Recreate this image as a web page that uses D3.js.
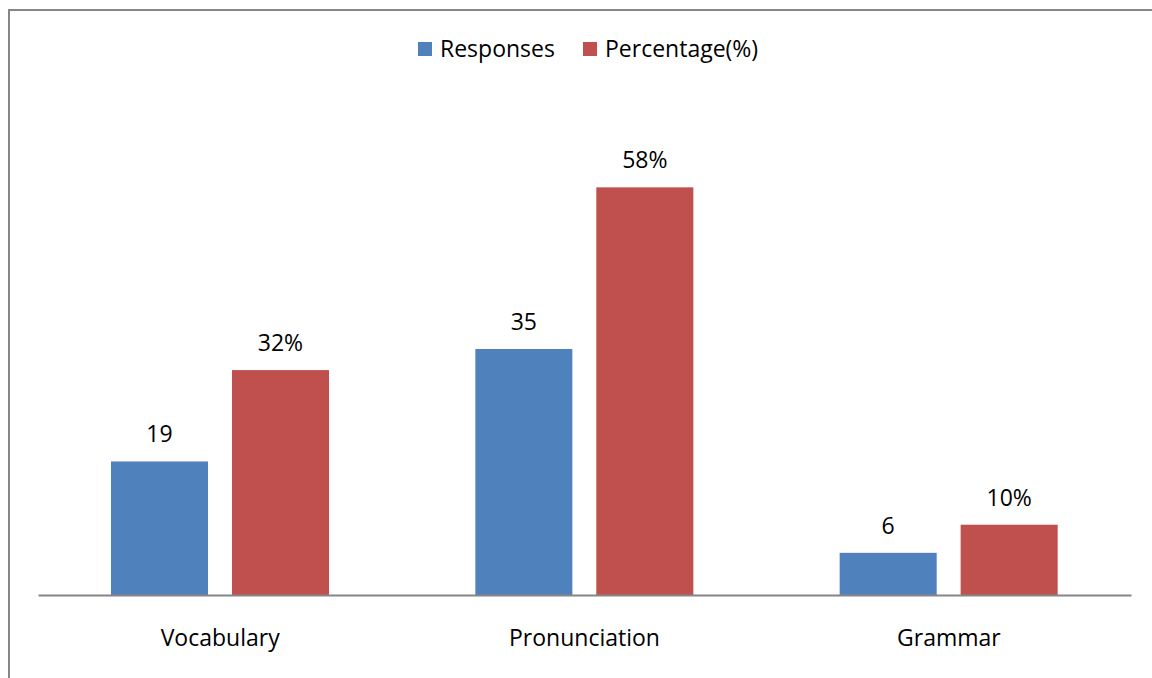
<!DOCTYPE html>
<html>
<head>
<meta charset="utf-8">
<script src="https://cdn.jsdelivr.net/npm/d3@7"></script>
<style>
  html, body { margin: 0; padding: 0; background: #fff; }
  svg { display: block; font-family: "Open Sans", Lato, sans-serif; }
</style>
</head>
<body>
<svg id="chart" width="1152" height="678"></svg>
<script>
// Difficulty areas reported by learners
const categories = ["Vocabulary", "Pronunciation", "Grammar"];
const seriesNames = ["Responses", "Percentage(%)"];
const responses = [19, 35, 6];
const percentages = [32, 58, 10];
const valueLabels = [["19", "35", "6"], ["32%", "58%", "10%"]];
const colors = ["#4F81BD", "#C0504D"];

const FONT = "'Open Sans', Lato, sans-serif";
const FS = 23;

const svg = d3.select("#chart");
const W = 1152, H = 678;

// Outer chart frame
svg.append("rect")
  .attr("x", 9).attr("y", 10)
  .attr("width", W + 20).attr("height", H + 20)
  .attr("fill", "#fff")
  .attr("stroke", "#868686").attr("stroke-width", 2);

const plot = { left: 38, right: 1131, top: 103, bottom: 595 };

const x0 = d3.scaleBand()
  .domain(categories)
  .range([plot.left, plot.right])
  .paddingInner(0).paddingOuter(0);

const x1 = d3.scaleBand()
  .domain(d3.range(seriesNames.length))
  .range([73, 291])
  .paddingInner(0.198).paddingOuter(0);

const y = d3.scaleLinear()
  .domain([0, 70])
  .range([plot.bottom, plot.top]);

const series = [responses, percentages];

const groups = svg.append("g")
  .selectAll("g")
  .data(categories)
  .join("g")
  .attr("transform", d => `translate(${x0(d)},0)`);

const cells = (c, i) => series.map((s, k) => ({ k, v: s[i], label: valueLabels[k][i] }));

groups.selectAll("rect")
  .data(cells)
  .join("rect")
  .attr("x", d => x1(d.k))
  .attr("width", x1.bandwidth())
  .attr("y", d => y(d.v))
  .attr("height", d => y(0) - y(d.v))
  .attr("fill", d => colors[d.k]);

groups.selectAll("text.val")
  .data(cells)
  .join("text")
  .attr("class", "val")
  .attr("x", d => x1(d.k) + x1.bandwidth() / 2)
  .attr("y", d => y(d.v) - 19)
  .attr("text-anchor", "middle")
  .attr("font-size", FS)
  .attr("fill", "#000")
  .text(d => d.label);

// Category axis
const xAxis = svg.append("g")
  .attr("transform", `translate(0,${plot.bottom})`)
  .call(d3.axisBottom(x0).tickSize(0).tickPadding(35));
xAxis.select(".domain").attr("stroke", "#868686").attr("stroke-width", 2);
xAxis.selectAll("text")
  .attr("font-size", FS)
  .attr("font-family", FONT)
  .attr("fill", "#000");

// Legend
const legend = svg.append("g");
const legendX = [418, 583];
seriesNames.forEach((name, k) => {
  legend.append("rect")
    .attr("x", legendX[k]).attr("y", 42)
    .attr("width", 14).attr("height", 14)
    .attr("fill", colors[k]);
  legend.append("text")
    .attr("x", legendX[k] + 22).attr("y", 57)
    .attr("font-size", FS)
    .attr("fill", "#000")
    .text(name);
});
</script>
</body>
</html>
